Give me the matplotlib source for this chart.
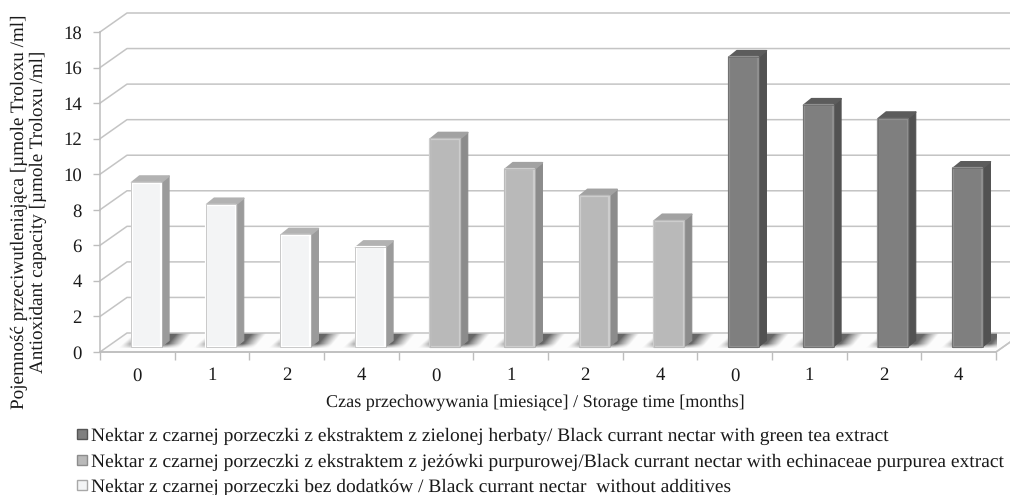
import numpy as np
import matplotlib
matplotlib.use("Agg")
import matplotlib.pyplot as plt
from matplotlib.colors import LinearSegmentedColormap
from matplotlib.patches import Patch, Polygon, Rectangle

plt.rcParams['font.family'] = ['Liberation Serif', 'DejaVu Serif']
plt.rcParams['text.hinting'] = 'no_hinting'

# Dane
czas = ['0', '1', '2', '4', '0', '1', '2', '4', '0', '1', '2', '4']
bez_dodatkow = [9.25, 8.0, 6.3, 5.6]
jezowka = [11.7, 10.0, 8.5, 7.1]
zielona_herbata = [16.3, 13.6, 12.85, 10.05]

etykiety = [
    'Nektar z czarnej porzeczki z ekstraktem z zielonej herbaty/ Black currant nectar with green tea extract',
    'Nektar z czarnej porzeczki z ekstraktem z jeżówki purpurowej/Black currant nectar with echinaceae purpurea extract',
    'Nektar z czarnej porzeczki bez dodatków / Black currant nectar  without additives',
]
os_y = 'Pojemność przeciwutleniająca [µmole Troloxu /ml]\nAntioxidant capacity [µmole Troloxu /ml]'
os_x = 'Czas przechowywania [miesiące] / Storage time [months]'

# kolory: przód, bok, góra
kolory = [('#f3f4f5', '#9b9b9b', '#b2b2b2'),
          ('#b9b9b9', '#8c8c8c', '#a2a2a2'),
          ('#7f7f7f', '#525252', '#5c5c5c')]

W, H = 1010, 495
X0, X1, Y0, Y1 = 100, 996, 352, 32   # przednia płaszczyzna w pikselach
GRID = '#c4c4c4'

fig = plt.figure(figsize=(W / 100, H / 100), dpi=100)
ax = fig.add_axes([X0 / W, 1 - Y0 / H, (X1 - X0) / W, (Y0 - Y1) / H])
ax.set_xlim(0, 12)
ax.set_ylim(0, 18)

# przeliczenie pikseli na jednostki osi
px = 12 / (X1 - X0)
py = 18 / (Y0 - Y1)
gl_x, gl_y = 27 * px, 19 * py        # głębokość "ściany"
sr_x, sr_y = 9 * px, 5 * py          # przesunięcie słupka do środka
bok_x, bok_y = 8 * px, 6.5 * py      # głębokość słupka
szer = 29.5 * px

# siatka na ścianie
for v in range(2, 20, 2):
    ax.plot([0, gl_x, 12 + gl_x], [v, v + gl_y, v + gl_y], color=GRID, lw=1.1,
            clip_on=False, zorder=1)

# podłoga
ax.add_patch(Polygon([(0, 0), (12, 0), (12 + gl_x, gl_y), (gl_x, gl_y)], closed=True,
                     facecolor='#fcfcfc', edgecolor=GRID, lw=1.1, clip_on=False, zorder=1))

wartosci = bez_dodatkow + jezowka + zielona_herbata

# cienie na podłodze (rozmyty pas pochylony jak podłoga)
cmap = LinearSegmentedColormap.from_list('cien', [(0.5, 0.5, 0.5, 0.0), (0.40, 0.40, 0.40, 1.0)])
siatka_x, siatka_y = np.meshgrid(np.linspace(-36, 56, 92), np.linspace(0, 15, 16))
brzeg_l = -28 + 16 * siatka_y / 15
brzeg_p = 34 + 12 * siatka_y / 15
cien = np.clip((siatka_x - brzeg_l) / 14, 0, 1) * np.clip((brzeg_p - siatka_x) / 15, 0, 1)
cien = cien * np.clip((siatka_y + 1) / 5, 0, 1) * np.clip((15.5 - siatka_y) / 1.5, 0, 1)
for i in range(len(wartosci)):
    xc = i + 0.5 + sr_x
    ax.imshow(cien, extent=(xc - 36 * px, xc + 56 * px, 4 * py, 19 * py),
              origin='lower', cmap=cmap, vmin=0, vmax=1, aspect='auto',
              interpolation='bilinear', zorder=2)
ax.set_xlim(0, 12)
ax.set_ylim(0, 18)

# słupki 3D
for i, v in enumerate(wartosci):
    przod, bok, gora = kolory[i // 4]
    x = i + 0.5 + sr_x - szer / 2
    d = sr_y
    t = v + d
    r = x + szer
    ax.add_patch(Polygon([(r, d), (r + bok_x, d + bok_y), (r + bok_x, t + bok_y), (r, t)],
                         closed=True, facecolor=bok, edgecolor=bok, lw=0.8, joinstyle='round',
                         clip_on=False, zorder=3))
    ax.add_patch(Polygon([(x, t), (r, t), (r + bok_x, t + bok_y), (x + bok_x, t + bok_y)],
                         closed=True, facecolor=gora, edgecolor=gora, lw=1.2, joinstyle='round',
                         clip_on=False, zorder=3))
    jasny = '#ffffff' if i < 4 else ('#cdcdcd' if i < 8 else '#8f8f8f')
    ax.add_patch(Rectangle((x, d), szer, t - d, facecolor=przod, edgecolor=jasny, lw=1.6,
                           joinstyle='round', clip_on=False, zorder=4))
    ax.add_patch(Rectangle((x - 0.7 * px, d), szer + 1.4 * px, t - d + 0.7 * py, facecolor='none',
                           edgecolor='#b4b4b4' if i < 8 else '#666666', lw=0.5,
                           clip_on=False, zorder=4))

# osie
for s in ('top', 'right'):
    ax.spines[s].set_visible(False)
for s in ('left', 'bottom'):
    ax.spines[s].set_color('#bdbdbd')
    ax.spines[s].set_linewidth(1.1)
    ax.spines[s].set_zorder(5)
ax.plot([12, 12 + gl_x], [0, gl_y], color=GRID, lw=1.1, clip_on=False, zorder=1)

ax.set_yticks(range(0, 20, 2))
ax.tick_params(axis='y', length=5, width=1, color='#bdbdbd', labelsize=13.5, pad=8, labelcolor='#1a1a1a')
ax.set_xticks(np.arange(12) + 0.5)
ax.set_xticklabels(czas)
ax.set_xticks(np.arange(13), minor=True)
ax.tick_params(axis='x', which='major', length=0, labelsize=13.5, pad=11, labelcolor='#1a1a1a')
ax.tick_params(axis='x', which='minor', length=6, width=1, color='#bdbdbd')

ax.set_ylabel(os_y, fontsize=13.8, color='#1a1a1a', linespacing=1.12, ha='center')
ax.yaxis.set_label_coords((47 - X0) / (X1 - X0), (Y0 - 212) / (Y0 - Y1))
ax.set_xlabel(os_x, fontsize=13.1, color='#1a1a1a')
ax.xaxis.set_label_coords((535 - X0) / (X1 - X0), (Y0 - 395) / (Y0 - Y1))

# legenda
uchwyty = [Patch(facecolor=kolory[2][0], edgecolor='#555555'),
           Patch(facecolor=kolory[1][0], edgecolor='#8c8c8c'),
           Patch(facecolor=kolory[0][0], edgecolor='#a8a8a8')]
fig.legend(uchwyty, etykiety, loc='upper left', bbox_to_anchor=(77 / W, 1 - 428 / H),
           frameon=False, fontsize=14.0, labelcolor='#1a1a1a', handlelength=0.5, handleheight=0.45,
           handletextpad=0.2, labelspacing=0.42, borderpad=0, borderaxespad=0)

fig.savefig('out.png', dpi=100)
